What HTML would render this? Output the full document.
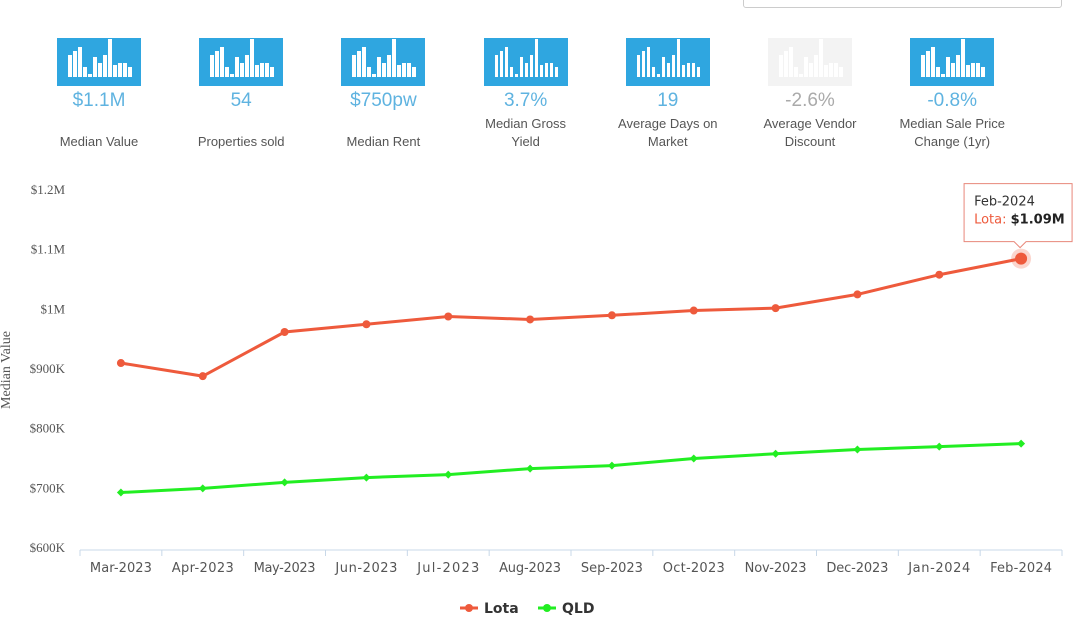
<!DOCTYPE html>
<html><head><meta charset="utf-8"><style>
body{margin:0;width:1080px;height:621px;background:#fff;font-family:"Liberation Sans",sans-serif;position:relative;overflow:hidden}
.card{position:absolute;top:38px;width:142px;text-align:center}
.ic{width:84px;height:48px;background:#2fa6e0;margin:0 auto;position:relative}
.ic.f{background:#f3f3f3}
.val{color:#5fb3e0;font-size:19px;margin-top:4px;height:22px}
.lbl{color:#555;font-size:13px;line-height:18px;height:36px;display:flex;flex-direction:column;justify-content:flex-end;margin-top:3px}
</style></head><body>
<div style="position:absolute;left:743px;top:-6px;width:317px;height:12px;border:1px solid #ccc;border-radius:3px"></div>
<div id="cards"></div>
<svg id="chart" width="1080" height="621" style="position:absolute;left:0;top:0;pointer-events:none"></svg>
<script>
const cards=[["$1.1M","Median Value"],["54","Properties sold"],["$750pw","Median Rent"],["3.7%","Median Gross<br>Yield"],["19","Average Days on<br>Market"],["-2.6%","Average Vendor<br>Discount"],["-0.8%","Median Sale Price<br>Change (1yr)"]];
const bh=[22,26,30,10,3,20,14,22,38,12,14,14,10];
let h='';
cards.forEach((c,i)=>{
 let bars='';bh.forEach((b,j)=>{bars+=`<div style="position:absolute;left:${11+j*5}px;bottom:9px;width:3.5px;height:${b}px;background:#fff"></div>`});
 h+=`<div class="card" style="left:${28+i*142.2}px"><div class="ic${i==5?' f':''}">${bars}</div><div class="val" style="${i==5?'color:#aaa':''}">${c[0]}</div><div class="lbl"><div>${c[1]}</div></div></div>`;
});
document.getElementById('cards').innerHTML=h;

const categories=["Mar-2023","Apr-2023","May-2023","Jun-2023","Jul-2023","Aug-2023","Sep-2023","Oct-2023","Nov-2023","Dec-2023","Jan-2024","Feb-2024"];
const lota=[910,888,962,975,988,983,990,998,1002,1025,1058,1085];
const qld=[693,700,710,718,723,733,738,750,758,765,770,775];
const yTicks=[600,700,800,900,1000,1100,1200];
const yLabels=["$600K","$700K","$800K","$900K","$1M","$1.1M","$1.2M"];
const svg=document.getElementById('chart');
const L=80,R=1062,T=190,B=548;
const bw=(R-L)/categories.length;
const x=i=>L+bw*(i+0.5);
const y=v=>B-(v-600)/600*(B-T);
function el(t,a,txt){const e=document.createElementNS('http://www.w3.org/2000/svg',t);for(const k in a)e.setAttribute(k,a[k]);if(txt!=null)e.textContent=txt;svg.appendChild(e);return e;}
yTicks.forEach((v,i)=>{const t=el('text',{x:65,y:y(v)+4,'text-anchor':'end','font-size':13,fill:'#555','font-family':'Liberation Serif'},yLabels[i]);

});
const yt=el('text',{x:10,y:370,'text-anchor':'middle','font-size':14,fill:'#555','font-family':'Liberation Serif',transform:'rotate(-90 10 370)'},'Median Value');


el('line',{x1:L,x2:R,y1:B+2,y2:B+2,stroke:'#c8d8e8'});
categories.forEach((c,i)=>{el('line',{x1:L+bw*i,x2:L+bw*i,y1:B+2,y2:B+8,stroke:'#c8d8e8'});
const t=el('text',{x:x(i),y:572,'text-anchor':'middle','font-size':13,fill:'#555','font-family':'DejaVu Sans','textLength':62},c);

});
el('line',{x1:R,x2:R,y1:B+2,y2:B+8,stroke:'#c8d8e8'});
function series(d,col,name,diamond){
 const p=el('polyline',{points:d.map((v,i)=>x(i)+','+y(v)).join(' '),fill:'none',stroke:col,'stroke-width':3});
 
 
 d.forEach((v,i)=>{let m;
  if(diamond)m=el('polygon',{points:`${x(i)},${y(v)-4} ${x(i)+4},${y(v)} ${x(i)},${y(v)+4} ${x(i)-4},${y(v)}`,fill:col});
  else m=el('circle',{cx:x(i),cy:y(v),r:4,fill:col});
  
  });
}
series(qld,'#22ee22','qld',true);
series(lota,'#ee5a3c','lota',false);
const li=lota.length-1;
el('circle',{cx:x(li),cy:y(lota[li]),r:10,fill:'#ee5a3c',opacity:0.25});
el('circle',{cx:x(li),cy:y(lota[li]),r:6,fill:'#ee5a3c'});
const tx=x(li),ty=y(lota[li]);
const tip=el('path',{d:`M${tx-57},${ty-75} h108 v58 h-46 l-6,6 l-6,-6 h-50 z`,fill:'#fff',stroke:'#e8877a','stroke-width':1});


el('text',{x:tx-47,y:ty-53,'font-size':13,fill:'#333','font-family':'DejaVu Sans'},categories[li]);
const t2=el('text',{x:tx-47,y:ty-35,'font-size':13,'font-family':'DejaVu Sans'});
t2.innerHTML=`<tspan fill="#ee5a3c">Lota: </tspan><tspan font-weight="bold" fill="#222">$${(Math.round(lota[li]/10)/100).toFixed(2)}M</tspan>`;
[['#ee5a3c','Lota',460],['#22ee22','QLD',538]].forEach(([c,n,lx])=>{
 el('line',{x1:lx,x2:lx+18,y1:608,y2:608,stroke:c,'stroke-width':3});
 el('circle',{cx:lx+9,cy:608,r:4,fill:c});
 const t=el('text',{x:lx+24,y:613,'font-size':14,'font-weight':'bold',fill:'#333','font-family':'DejaVu Sans'},n);
 
 
});
</script>
</body></html>
